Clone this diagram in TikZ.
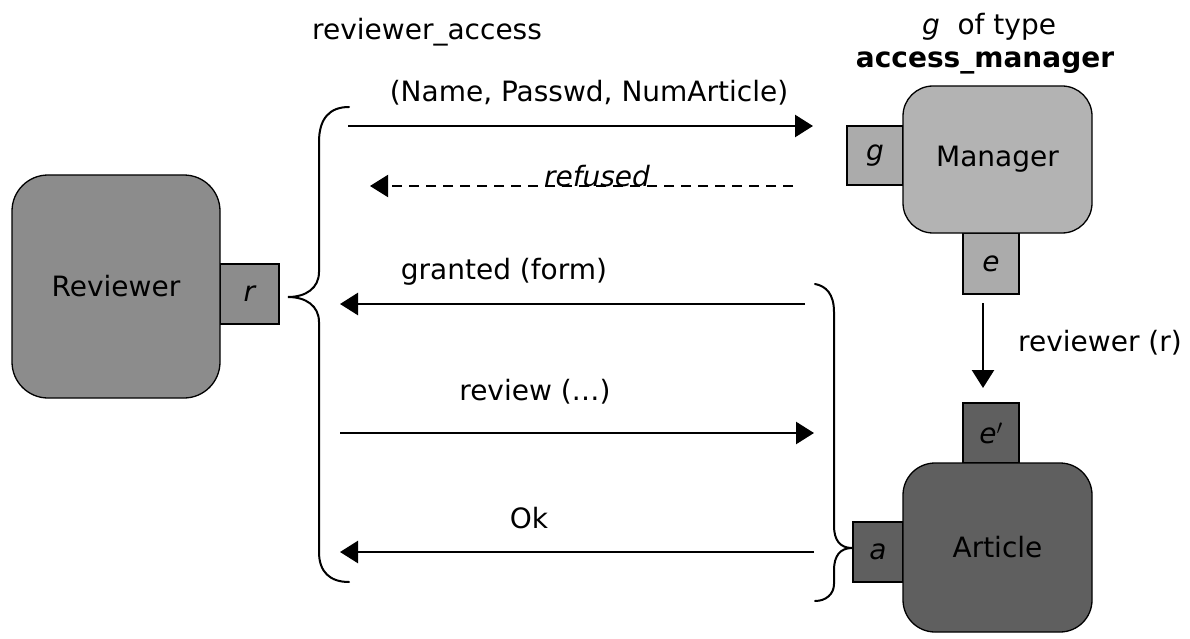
\documentclass[tikz,border=0pt]{standalone}
\usepackage{fontspec}
\setmainfont{DejaVu Sans}
\usetikzlibrary{arrows.meta}
\definecolor{revfill}{HTML}{8C8C8C}
\definecolor{mgrfill}{HTML}{B3B3B3}
\definecolor{mgrport}{HTML}{ABABAB}
\definecolor{artfill}{HTML}{5F5F5F}
\newcommand{\txt}{\fontsize{28}{32}\selectfont}
\tikzset{
  comp/.style={draw=black, line width=1.3pt, rounded corners=32pt, inner sep=0pt,
    font=\txt},
  port/.style={draw=black, line width=1.3pt, inner sep=0pt,
    font=\txt\itshape},
  msg/.style={line width=2.6pt, -{Triangle[length=18pt,width=22pt]}},
  lbl/.style={inner sep=0pt, font=\txt},
  brace/.style={line width=2pt, line cap=round},
}
\begin{document}
\begin{tikzpicture}[x=1pt,y=-1pt]
\useasboundingbox (0,0) rectangle (1190,639);

% ports first, so that the component boxes cover their inner edges
\node[port, fill=revfill, minimum width=59pt, minimum height=60pt] (rport) at (249.5,294) {r};
\node[port, fill=mgrport, minimum width=56pt, minimum height=59pt] (gport) at (875,155.5) {g};
\node[port, fill=mgrport, minimum width=56pt, minimum height=61pt] (eport) at (991,263.5) {e};
\node[port, fill=artfill, minimum width=56pt, minimum height=60pt] (eprime) at (991,433) {e$'$};
\node[port, fill=artfill, minimum width=50pt, minimum height=60pt] (aport) at (878,552) {a};

% components
\node[comp, fill=revfill, minimum width=208pt, minimum height=223pt, rounded corners=36pt] (reviewer) at (116,286.5) {Reviewer};
\node[comp, fill=mgrfill, minimum width=189pt, minimum height=147pt, rounded corners=30pt] (manager) at (997.5,159.5) {Manager};
\node[comp, fill=artfill, minimum width=189pt, minimum height=169pt] (article) at (997.5,547.5) {Article};

% type annotation of the manager
\node[lbl] (gtype) at (989,27) {\textit{g}\ \ of type};
\node[lbl, font=\txt\bfseries] (gname) at (985,63) {access\_manager};

% left brace grouping the reviewer's messages
\coordinate (lbtop) at (349,107);
\coordinate (lbtip) at (288,297);
\coordinate (lbbot) at (349,582);
\draw[brace] (lbtop) .. controls (330,107) and (319,118) .. (319,142)
  -- (319,272) .. controls (319,288) and (306,297) .. (lbtip)
  .. controls (306,297) and (319,306) .. (319,322)
  -- (319,552) .. controls (319,572) and (330,582) .. (lbbot);

% right brace grouping the article's messages
\coordinate (rbtop) at (815,284);
\coordinate (rbtip) at (852,548);
\coordinate (rbbot) at (815,601);
\draw[brace] (rbtop) .. controls (826,286) and (834,294) .. (834,312)
  -- (834,526) .. controls (834,540) and (840,548) .. (rbtip)
  .. controls (840,548) and (834,556) .. (834,570)
  -- (834,584) .. controls (834,594) and (826,601) .. (rbbot);

% message end points
\coordinate (m1s) at (348,126);  \coordinate (m1e) at (813,126);
\coordinate (m2s) at (793,186);  \coordinate (m2e) at (370,186);
\coordinate (m3s) at (805,304);  \coordinate (m3e) at (340,304);
\coordinate (m4s) at (340,433);  \coordinate (m4e) at (814,433);
\coordinate (m5s) at (814,552);  \coordinate (m5e) at (340,552);
\coordinate (vs) at (983,303);   \coordinate (ve) at (983,388);

\draw[msg] (m1s) -- (m1e);
\draw[msg, line width=2pt, dash pattern=on 10pt off 7pt] (m2s) -- (m2e);
\draw[msg] (m3s) -- (m3e);
\draw[msg] (m4s) -- (m4e);
\draw[msg] (m5s) -- (m5e);
\draw[msg] (vs) -- (ve);

% message labels
\node[lbl, anchor=west] (l1a) at (312,32) {reviewer\_access};
\node[lbl] (l1b) at (589,93) {(Name, Passwd, NumArticle)};
\node[lbl, font=\txt\itshape] (l2) at (597,176) {refused};
\node[lbl] (l3) at (504,272) {granted (form)};
\node[lbl] (l4) at (535,392) {review (…)};
\node[lbl] (l5) at (529,518) {Ok};
\node[lbl, anchor=west] (l6) at (1018,343) {reviewer (r)};
\end{tikzpicture}
\end{document}
